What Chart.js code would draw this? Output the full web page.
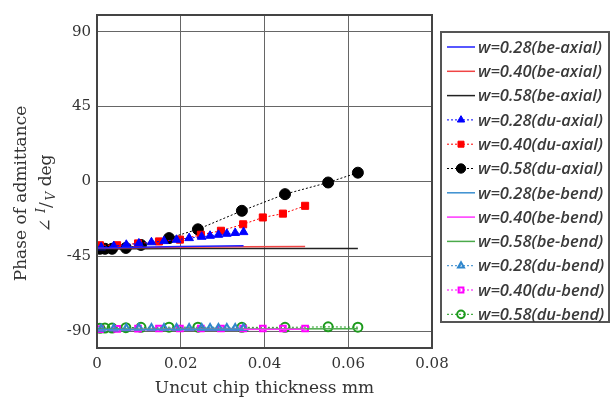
<!DOCTYPE html>
<html>
<head>
<meta charset="utf-8">
<script src="https://cdn.jsdelivr.net/npm/chart.js@4.4.0/dist/chart.umd.min.js"></script>
<style>
  html, body { margin: 0; padding: 0; background: #fff; }
  #wrap { width: 611px; height: 403px; }
</style>
</head>
<body>
<div id="wrap"><canvas id="phaseChart" width="611" height="403"></canvas></div>
<script>
// Données (angle de phase en degrés)
const yTicks = [-90, -45, 0, 45, 90];

// be-axial (lignes continues)
const xBeAx28 = [0, 0.01, 0.02, 0.035];
const yBeAx28 = [-40, -39.5, -39, -38.6];
const xBeAx40 = [0, 0.02, 0.035, 0.0497];
const yBeAx40 = [-40, -39.5, -39.2, -39];
const xBeAx58 = [0, 0.02, 0.04, 0.0623];
const yBeAx58 = [-40.5, -40.3, -40.2, -40.3];

// du-axial (points + pointillés)
const xDuAx28 = [0.001, 0.004, 0.007, 0.01, 0.013, 0.016, 0.019, 0.022, 0.025, 0.027, 0.029, 0.031, 0.033, 0.035];
const yDuAx28 = [-39.5, -38.8, -38, -37.2, -36.5, -35.8, -35, -34, -33.2, -32.6, -32, -31.4, -30.9, -30.4];
const xDuAx40 = [0.0007, 0.0048, 0.0098, 0.0148, 0.0198, 0.0248, 0.0296, 0.0349, 0.0396, 0.0444, 0.0497];
const yDuAx40 = [-38.3, -38.3, -37.2, -36, -34.9, -32, -29.6, -25.7, -21.6, -19.3, -14.6];
const xDuAx58 = [0.0007, 0.0019, 0.0036, 0.0069, 0.0105, 0.0172, 0.0241, 0.0346, 0.0449, 0.0552, 0.0623];
const yDuAx58 = [-40.4, -40.4, -40.4, -39.9, -38.1, -34, -28.7, -17.6, -7.6, -0.6, 5.3];

// be-bend
const xBeBe28 = [0, 0.035];
const yBeBe28 = [-89, -88.8];
const xBeBe40 = [0, 0.0497];
const yBeBe40 = [-89, -88.8];
const xBeBe58 = [0, 0.0623];
const yBeBe58 = [-88.8, -88.4];

// du-bend
const xDuBe28 = [0.001, 0.004, 0.007, 0.01, 0.013, 0.016, 0.019, 0.022, 0.025, 0.027, 0.029, 0.031, 0.033, 0.035];
const yDuBe28 = [-88.5, -88.3, -88.2, -88, -88, -88, -88, -88, -88, -88, -88, -88, -88, -88];
const xDuBe40 = [0.0007, 0.0048, 0.0098, 0.0148, 0.0198, 0.0248, 0.0296, 0.0349, 0.0396, 0.0444, 0.0497];
const yDuBe40 = [-88.7, -88.5, -88.4, -88.3, -88.3, -88.3, -88.3, -88.3, -88.3, -88.3, -88.3];
const xDuBe58 = [0.0007, 0.0019, 0.0036, 0.0069, 0.0105, 0.0172, 0.0241, 0.0346, 0.0449, 0.0552, 0.0623];
const yDuBe58 = [-88.2, -88, -88, -87.8, -87.6, -87.5, -87.5, -87.6, -87.6, -87.3, -87.5];

function pts(xs, ys) {
    return xs.map((x, i) => ({ x: x, y: ys[i] }));
}

function solid(label, xs, ys, color) {
    return {
        label: label, data: pts(xs, ys), borderColor: color, backgroundColor: color,
        borderWidth: 1.5, pointRadius: 0, showLine: true
    };
}

function dotted(label, xs, ys, color, style, filled, radius) {
    return {
        label: label, data: pts(xs, ys), borderColor: color,
        backgroundColor: filled ? color : 'rgba(255,255,255,0)',
        borderWidth: 1, borderDash: [2, 2], showLine: true,
        pointStyle: style, pointRadius: radius, pointBorderWidth: filled ? 1 : 2,
        pointBorderColor: color, pointBackgroundColor: filled ? color : 'rgba(255,255,255,0)'
    };
}

const datasets = [
    solid('w=0.28(be-axial)', xBeAx28, yBeAx28, '#1f1fff'),
    solid('w=0.40(be-axial)', xBeAx40, yBeAx40, '#f04545'),
    solid('w=0.58(be-axial)', xBeAx58, yBeAx58, '#222222'),
    dotted('w=0.28(du-axial)', xDuAx28, yDuAx28, '#0000ff', 'triangle', true, 5),
    dotted('w=0.40(du-axial)', xDuAx40, yDuAx40, '#ff0000', 'rect', true, 5),
    dotted('w=0.58(du-axial)', xDuAx58, yDuAx58, '#000000', 'circle', true, 5.5),
    solid('w=0.28(be-bend)', xBeBe28, yBeBe28, '#3a8fd0'),
    solid('w=0.40(be-bend)', xBeBe40, yBeBe40, '#ff33ff'),
    solid('w=0.58(be-bend)', xBeBe58, yBeBe58, '#4aaa4a'),
    dotted('w=0.28(du-bend)', xDuBe28, yDuBe28, '#2f86cc', 'triangle', false, 4),
    dotted('w=0.40(du-bend)', xDuBe40, yDuBe40, '#ff00ff', 'rect', false, 4),
    dotted('w=0.58(du-bend)', xDuBe58, yDuBe58, '#1c9a1c', 'circle', false, 4.5)
];

// Cadre du graphique, titre de l'axe Y et légende encadrée
const decorPlugin = {
    id: 'decor',
    afterDraw(chart) {
        const c = chart.ctx;
        const a = chart.chartArea;
        c.save();
        c.strokeStyle = '#444';
        c.lineWidth = 2;
        c.strokeRect(a.left, a.top, a.right - a.left, a.bottom - a.top);

        // Titre Y
        c.fillStyle = '#333';
        c.translate(22, (a.top + a.bottom) / 2 + 12);
        c.rotate(-Math.PI / 2);
        c.textAlign = 'center';
        c.textBaseline = 'middle';
        c.font = '17px "DejaVu Serif"';
        c.fillText('Phase of admittance', 0, 0);
        const ang = '\u2220 ';
        const deg = ' deg';
        const wA = c.measureText(ang).width;
        const wD = c.measureText(deg).width;
        c.font = 'italic 12px "DejaVu Serif"';
        const wI = c.measureText('I').width;
        const wV = c.measureText('V').width;
        c.font = '17px "DejaVu Serif"';
        const wS = c.measureText('/').width;
        const total = wA + wI + wS + 2 + wV + wD;
        let x = -total / 2;
        const y2 = 25;
        c.textAlign = 'left';
        c.fillText(ang, x, y2); x += wA;
        c.font = 'italic 12px "DejaVu Serif"';
        c.fillText('I', x, y2 - 5); x += wI;
        c.font = '17px "DejaVu Serif"';
        c.fillText('/', x, y2); x += wS + 2;
        c.font = 'italic 12px "DejaVu Serif"';
        c.fillText('V', x, y2 + 5); x += wV;
        c.font = '17px "DejaVu Serif"';
        c.fillText(deg, x, y2);
        c.restore();

        // Légende
        c.save();
        const lx = 441, ly = 32, lw = 168, lh = 290, step = 24.3;
        c.strokeStyle = '#555';
        c.lineWidth = 2;
        c.strokeRect(lx, ly, lw, lh);
        c.textBaseline = 'middle';
        chart.data.datasets.forEach((ds, i) => {
            const yy = ly + 15 + i * step;
            c.save();
            c.strokeStyle = ds.borderColor;
            c.lineWidth = ds.borderDash ? 1 : 1.5;
            c.setLineDash(ds.borderDash || []);
            c.beginPath();
            c.moveTo(lx + 6, yy);
            c.lineTo(lx + 34, yy);
            c.stroke();
            c.restore();
            if (ds.pointRadius > 0) {
                c.save();
                c.fillStyle = ds.pointBackgroundColor;
                c.strokeStyle = ds.pointBorderColor;
                c.lineWidth = ds.pointBorderWidth;
                c.setLineDash([]);
                Chart.helpers.drawPoint(c, {
                    pointStyle: ds.pointStyle, radius: ds.pointRadius * 0.85, rotation: 0,
                    borderWidth: ds.pointBorderWidth
                }, lx + 20, yy);
                c.restore();
            }
            c.font = 'italic 600 16.5px "Open Sans"';
            c.fillStyle = '#3a3a3a';
            c.fillText(ds.label, lx + 37, yy + 1);
        });
        c.restore();
    }
};

const ctx = document.getElementById('phaseChart').getContext('2d');
const phaseChart = new Chart(ctx, {
    type: 'scatter',
    data: { datasets: datasets },
    options: {
        responsive: false,
        animation: false,
        layout: { padding: { top: 7, right: 179, left: 0, bottom: 0 } },
        plugins: {
            legend: { display: false },
            tooltip: { enabled: false }
        },
        scales: {
            x: {
                type: 'linear',
                min: 0, max: 0.08,
                afterFit: (s) => { s.height = 55; },
                grid: { color: '#666', lineWidth: 1, drawTicks: false },
                border: { display: false },
                ticks: {
                    stepSize: 0.02, padding: 7, color: '#333',
                    font: { family: 'DejaVu Serif', size: 15 },
                    callback: (v) => v === 0 ? '0' : v.toFixed(2)
                },
                title: {
                    display: true, text: 'Uncut chip thickness mm', color: '#333',
                    font: { family: 'DejaVu Serif', size: 17 }, padding: { top: 1 }
                }
            },
            y: {
                type: 'linear',
                min: -100, max: 100,
                afterFit: (s) => { s.width = 97; },
                afterBuildTicks: (s) => { s.ticks = yTicks.map(v => ({ value: v })); },
                grid: { color: '#666', lineWidth: 1, drawTicks: false },
                border: { display: false },
                ticks: {
                    padding: 6, color: '#333',
                    font: { family: 'DejaVu Serif', size: 15 }
                }
            }
        }
    },
    plugins: [decorPlugin]
});
</script>
</body>
</html>
